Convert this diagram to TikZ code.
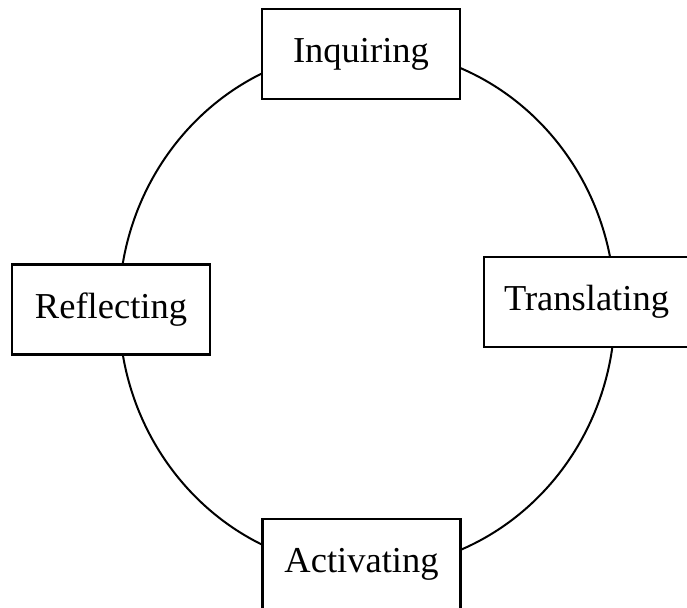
\documentclass[tikz,border=0pt]{standalone}
\usepackage{fontspec}
\setmainfont{Liberation Serif}
\usetikzlibrary{positioning}

\begin{document}
\begin{tikzpicture}[x=1pt, y=-1pt,
    stage/.style={draw=black, fill=white, line width=2.2pt,
      minimum width=198pt, minimum height=90pt, inner xsep=20pt,
      font=\fontsize{36.5}{40}\selectfont}]
  \useasboundingbox (0,0) rectangle (687,607);
  \clip (0,0) rectangle (687,607);

  % the cycle
  \coordinate (mid) at (367,309);
  \draw[line width=2pt, black] (mid) ellipse [x radius=248pt, y radius=260pt];

  % the four stages
  \node[stage] (inquiring)   at (361,54)    {Inquiring};
  \node[stage] (translating) at (586.5,302) {Translating};
  \node[stage] (activating)  at (361.5,564) {Activating};
  \node[stage] (reflecting)  at (111,309.5) {Reflecting};

\end{tikzpicture}
\end{document}
